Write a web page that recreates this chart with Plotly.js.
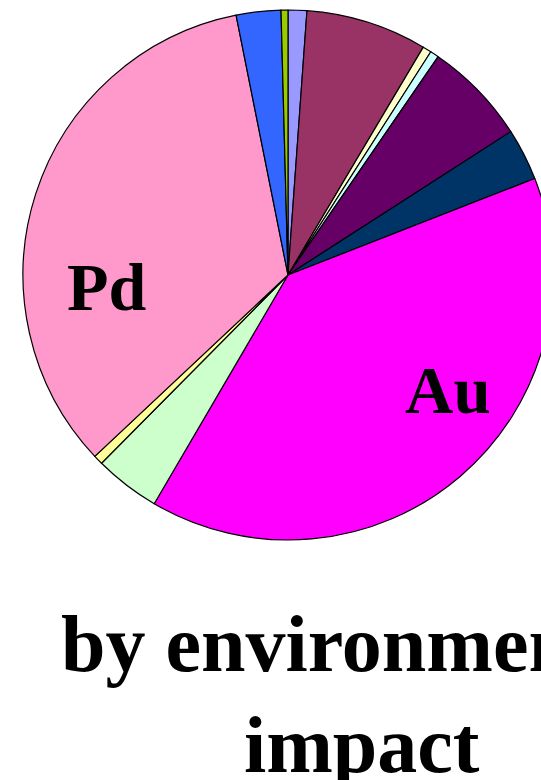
<!DOCTYPE html>
<html>
<head>
<meta charset="utf-8">
<script src="https://cdn.plot.ly/plotly-3.0.1.min.js"></script>
<style>
html,body{margin:0;padding:0;overflow:hidden;background:#fff;}
#chart{width:620px;height:780px;}
</style>
</head>
<body>
<div id="chart"></div>
<script>
// Share of each metal (percent), clockwise from 12 o'clock
const metals = ["M1", "M2", "M3", "M4", "M5", "M6", "Au", "M8", "M9", "Pd", "M11", "M12"];
const shares = [1.14, 7.39, 0.53, 0.53, 6.31, 3.17, 39.36, 4.0, 0.58, 33.86, 2.72, 0.42];
const sliceColors = ["#9999FF", "#993366", "#FFFFCC", "#CCFFFF", "#660066", "#003366",
                     "#FF00FF", "#CCFFCC", "#FFFF99", "#FF99CC", "#3366FF", "#99CC00"];
const titleLines = ["by environmental", "impact"];

const W = 620, H = 780;
const serif = "Liberation Serif, Times New Roman, serif";

const trace = {
  type: "pie",
  labels: metals,
  values: shares,
  sort: false,
  direction: "clockwise",
  rotation: 0,
  textinfo: "none",
  hoverinfo: "label+percent",
  showlegend: false,
  marker: {colors: sliceColors, line: {color: "#000", width: 1.2}},
  domain: {x: [23 / W, 553 / W], y: [(H - 540) / H, (H - 10) / H]}
};

const ann = (text, xpx, ypx, size) => ({
  text: "<b>" + text + "</b>", xref: "paper", yref: "paper",
  x: xpx / W, y: 1 - ypx / H, xanchor: "center", yanchor: "middle",
  showarrow: false, font: {family: serif, size: size, color: "#000"}
});

const layout = {
  width: W, height: H,
  margin: {l: 0, r: 0, t: 0, b: 0},
  paper_bgcolor: "#fff",
  annotations: [
    ann(metals[9], 107, 287, 68),
    ann(metals[6], 448, 390, 67),
    ann(titleLines[0], 361, 644, 80),
    ann(titleLines[1], 362, 745, 80)
  ]
};

Plotly.newPlot("chart", [trace], layout, {displayModeBar: false, staticPlot: true});
</script>
</body>
</html>
